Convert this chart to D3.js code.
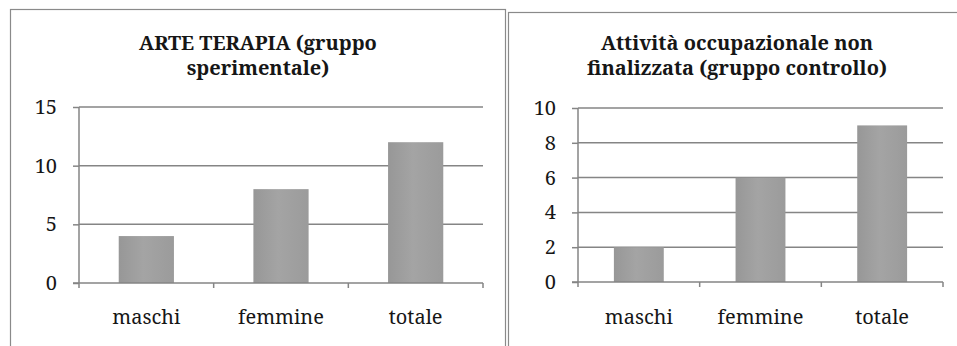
<!DOCTYPE html>
<html>
<head>
<meta charset="utf-8">
<script src="https://cdn.jsdelivr.net/npm/d3@7"></script>
<style>
  html, body { margin: 0; padding: 0; background: #fff; }
  svg { display: block; }
</style>
</head>
<body>
<svg id="chart" width="957" height="346"></svg>
<script>
// Categories shared by both panels
const categories = ["maschi", "femmine", "totale"];

// Left panel: art therapy (experimental group)
const arteTitle = ["ARTE TERAPIA (gruppo", "sperimentale)"];
const arteValues = [4, 8, 12];
const arteTicks = [0, 5, 10, 15];

// Right panel: non-targeted occupational activity (control group)
const attivitaTitle = ["Attività occupazionale non", "finalizzata (gruppo controllo)"];
const attivitaValues = [2, 6, 9];
const attivitaTicks = [0, 2, 4, 6, 8, 10];

const svg = d3.select("#chart");
const defs = svg.append("defs");

const grad = defs.append("linearGradient")
  .attr("id", "barFill")
  .attr("x1", "0%").attr("x2", "100%").attr("y1", "0%").attr("y2", "0%");
grad.append("stop").attr("offset", "0%").attr("stop-color", "#979797");
grad.append("stop").attr("offset", "45%").attr("stop-color", "#a4a4a4");
grad.append("stop").attr("offset", "100%").attr("stop-color", "#9b9b9b");

const serif = '"Noto Serif", "Liberation Serif", serif';
const textColor = "#161616";
const lineColor = "#858585";

function drawPanel(cfg) {
  const g = svg.append("g");

  // panel frame
  g.append("rect")
    .attr("x", cfg.frame[0]).attr("y", cfg.frame[1])
    .attr("width", cfg.frame[2]).attr("height", cfg.frame[3])
    .attr("fill", "none").attr("stroke", "#8a8a8a").attr("stroke-width", 1.2);

  // two-line bold title
  const title = g.append("text")
    .attr("text-anchor", "middle")
    .style("font-family", serif)
    .style("font-weight", "bold")
    .style("font-size", cfg.titleSize + "px")
    .attr("fill", textColor);
  cfg.title.forEach((line, i) => {
    title.append("tspan")
      .attr("x", cfg.titleX)
      .attr("y", 50 + i * 25)
      .text(line);
  });

  const x = d3.scaleBand()
    .domain(categories)
    .range([cfg.left, cfg.right])
    .paddingInner(0.59)
    .paddingOuter(0.295);

  const y = d3.scaleLinear()
    .domain([0, d3.max(cfg.ticks)])
    .range([cfg.bottom, cfg.top]);

  // horizontal gridlines
  g.append("g")
    .selectAll("line")
    .data(cfg.ticks.filter(t => t > 0))
    .join("line")
    .attr("x1", cfg.left).attr("x2", cfg.right)
    .attr("y1", d => y(d)).attr("y2", d => y(d))
    .attr("stroke", lineColor).attr("stroke-width", 1.5);

  // bars
  g.append("g")
    .selectAll("rect")
    .data(cfg.values)
    .join("rect")
    .attr("x", (d, i) => x(categories[i]))
    .attr("y", d => y(d))
    .attr("width", x.bandwidth())
    .attr("height", d => cfg.bottom - y(d))
    .attr("fill", "url(#barFill)");

  // y axis
  const yAxis = d3.axisLeft(y)
    .tickValues(cfg.ticks)
    .tickSize(6)
    .tickPadding(16)
    .tickFormat(d3.format("d"));
  const ya = g.append("g")
    .attr("transform", `translate(${cfg.left},0)`)
    .call(yAxis);
  ya.select(".domain").remove();
  ya.selectAll(".tick line").attr("stroke", lineColor).attr("stroke-width", 1.5);
  ya.selectAll(".tick text")
    .style("font-family", serif)
    .style("font-size", "20px")
    .attr("fill", textColor);
  g.append("line")
    .attr("x1", cfg.left).attr("x2", cfg.left)
    .attr("y1", cfg.top).attr("y2", cfg.bottom + 5)
    .attr("stroke", lineColor).attr("stroke-width", 1.5);

  // x axis with boundary ticks between categories
  g.append("line")
    .attr("x1", cfg.left - 6).attr("x2", cfg.right)
    .attr("y1", cfg.bottom).attr("y2", cfg.bottom)
    .attr("stroke", lineColor).attr("stroke-width", 1.5);
  const bounds = categories.map(c => x(c) - x.step() * x.paddingOuter())
    .concat([cfg.right]);
  g.append("g")
    .selectAll("line")
    .data(bounds.slice(1))
    .join("line")
    .attr("x1", d => d).attr("x2", d => d)
    .attr("y1", cfg.bottom).attr("y2", cfg.bottom + 5)
    .attr("stroke", lineColor).attr("stroke-width", 1.5);

  g.append("g")
    .selectAll("text")
    .data(categories)
    .join("text")
    .attr("x", d => x(d) + x.bandwidth() / 2)
    .attr("y", 324)
    .attr("text-anchor", "middle")
    .style("font-family", serif)
    .style("font-size", "20px")
    .attr("fill", textColor)
    .text(d => d);
}

drawPanel({
  frame: [10.5, 9.5, 495, 360],
  title: arteTitle,
  titleX: 258,
  titleSize: 20,
  values: arteValues,
  ticks: arteTicks,
  left: 79, right: 483, top: 107, bottom: 283
});

drawPanel({
  frame: [508.5, 12.5, 470, 360],
  title: attivitaTitle,
  titleX: 737,
  titleSize: 20,
  values: attivitaValues,
  ticks: attivitaTicks,
  left: 578, right: 943, top: 108, bottom: 282
});
</script>
</body>
</html>
